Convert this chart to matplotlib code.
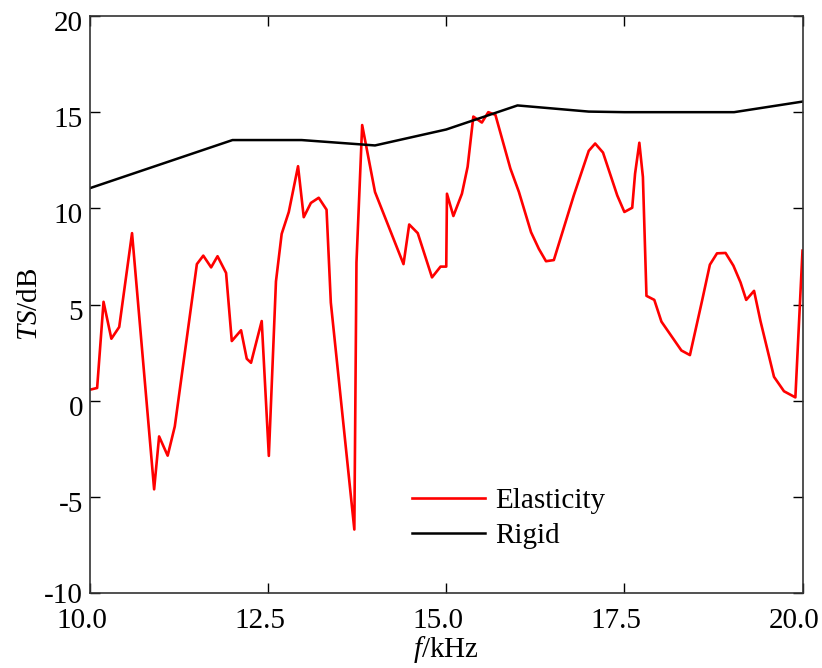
import matplotlib
matplotlib.use("Agg")
import matplotlib.pyplot as plt
import matplotlib.transforms as mtransforms

plt.rcParams['font.family'] = ['Liberation Serif', 'DejaVu Serif']
plt.rcParams['mathtext.fontset'] = 'custom'
plt.rcParams['mathtext.rm'] = 'Liberation Serif'
plt.rcParams['mathtext.it'] = 'Liberation Serif:italic'

# Elasticity (red) series
f_elastic = [10.0, 10.10, 10.19, 10.30, 10.41, 10.59, 10.90, 10.97, 11.09, 11.19,
             11.50, 11.59, 11.70, 11.79, 11.91, 11.99, 12.12, 12.20, 12.26, 12.41,
             12.51, 12.61, 12.69, 12.79, 12.92, 13.00, 13.10, 13.21, 13.32, 13.38,
             13.71, 13.74, 13.82, 14.00, 14.40, 14.48, 14.60, 14.80, 14.92, 15.00,
             15.01, 15.10, 15.22, 15.30, 15.38, 15.50, 15.59, 15.69, 15.90, 16.02,
             16.19, 16.30, 16.40, 16.51, 16.79, 17.00, 17.09, 17.20, 17.40, 17.50,
             17.61, 17.65, 17.71, 17.76, 17.81, 17.92, 18.02, 18.30, 18.42, 18.59,
             18.70, 18.80, 18.92, 19.03, 19.13, 19.21, 19.32, 19.41, 19.60, 19.74,
             19.90, 20.0]
ts_elastic = [0.57, 0.66, 5.14, 3.22, 3.83, 8.71, -4.61, -1.86, -2.86, -1.34,
              7.10, 7.54, 6.93, 7.51, 6.64, 3.10, 3.66, 2.18, 1.97, 4.14,
              -2.87, 6.20, 8.67, 9.81, 12.19, 9.54, 10.28, 10.55, 9.93, 5.10,
              -6.70, 7.19, 14.33, 10.85, 7.10, 9.16, 8.71, 6.41, 6.97, 6.97,
              10.76, 9.60, 10.76, 12.16, 14.77, 14.46, 15.00, 14.86, 12.07, 10.85,
              8.76, 7.89, 7.25, 7.31, 10.67, 12.99, 13.37, 12.90, 10.67, 9.81,
              10.03, 11.80, 13.41, 11.63, 5.45, 5.24, 4.11, 2.61, 2.37, 5.19,
              7.07, 7.66, 7.68, 7.02, 6.15, 5.24, 5.71, 4.14, 1.24, 0.49,
              0.17, 7.80]

# Rigid (black) series
f_rigid = [10.0, 12.0, 12.97, 14.0, 15.0, 16.0, 17.0, 17.5, 19.04, 20.0]
ts_rigid = [11.05, 13.55, 13.55, 13.27, 14.10, 15.35, 15.03, 15.0, 15.0, 15.55]

xticks = [10.0, 12.5, 15.0, 17.5, 20.0]
xticklabels = ['10.0', '12.5', '15.0', '17.5', '20.0']
yticks = [-10, -5, 0, 5, 10, 15, 20]
yticklabels = ['-10', '-5', '0', '5', '10', '15', '20']

fig = plt.figure(figsize=(8.22, 6.68), dpi=100)
ax = fig.add_axes([90/822, 1-593/668, 712.5/822, 577/668])

ax.plot(f_elastic, ts_elastic, color='#ff0000', lw=1.9, label='Elasticity')
ax.plot(f_rigid, ts_rigid, color='black', lw=1.8, label='Rigid')

ax.set_xlim(10, 20)
ax.set_ylim(-10, 20)
ax.set_xticks(xticks)
ax.set_xticklabels(xticklabels)
ax.set_yticks(yticks)
ax.set_yticklabels(yticklabels)

ax.tick_params(direction='in', length=7, width=1, top=True, right=True,
               labelsize=21, colors='black')
ax.tick_params(axis='x', pad=11)
ax.tick_params(axis='y', pad=5)
for s in ax.spines.values():
    s.set_linewidth(1.2)
    s.set_color('#333333')

dx = mtransforms.ScaledTranslation(-8/100, 0, fig.dpi_scale_trans)
for lab in ax.get_xticklabels():
    lab.set_transform(lab.get_transform() + dx)
for lab in ax.get_yticklabels():
    shift = 0 if lab.get_text() == '-10' else -5
    dy = mtransforms.ScaledTranslation(0, shift/100, fig.dpi_scale_trans)
    lab.set_transform(lab.get_transform() + dy)

ax.set_xlabel(r'$\mathit{f}$/kHz', fontsize=21, labelpad=0)
ax.set_ylabel(r'$\mathit{TS}$/dB', fontsize=21, labelpad=1)

leg = ax.legend(loc='lower left', bbox_to_anchor=((412-90)/712.5, (593-549)/577),
                frameon=False, fontsize=21, handlelength=2.5, handletextpad=0.35,
                labelspacing=0.3, borderpad=0, borderaxespad=0)

fig.savefig('out.png', dpi=100, facecolor='white')
